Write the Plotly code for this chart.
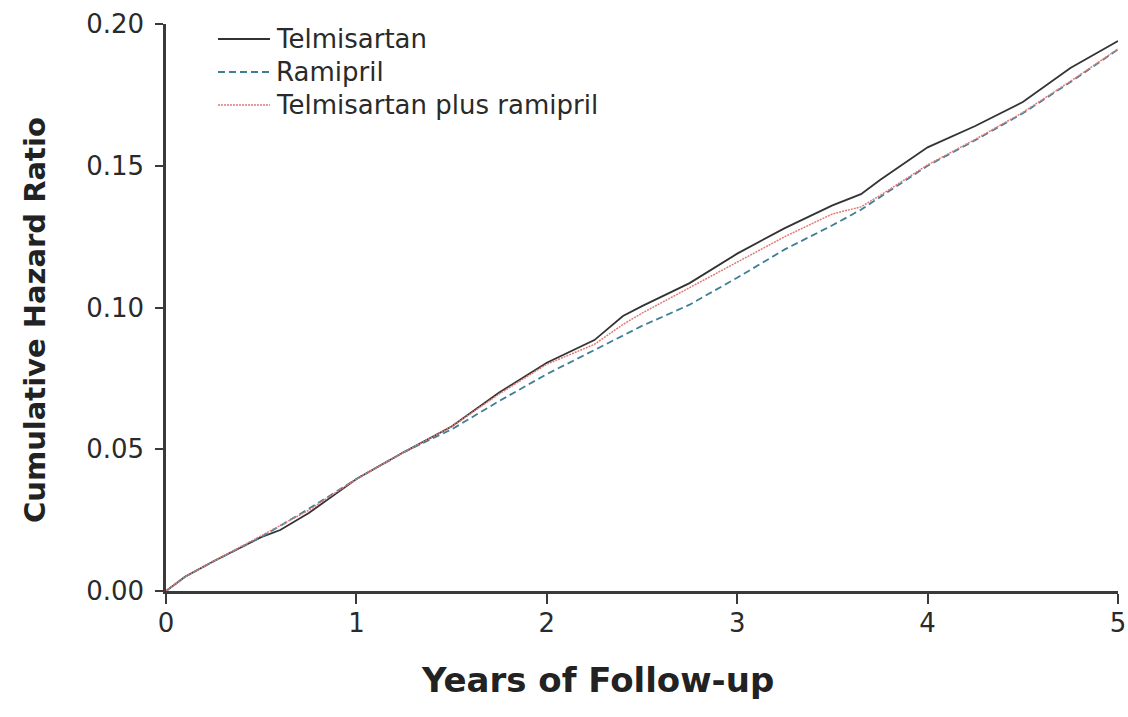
import plotly.graph_objects as go

# Years of follow-up at which the cumulative hazard is sampled
years = [0, 0.1, 0.25, 0.5, 0.6, 0.75, 1.0, 1.25, 1.5, 1.75, 2.0, 2.25, 2.4, 2.5,
         2.75, 3.0, 3.25, 3.5, 3.65, 3.75, 4.0, 4.25, 4.5, 4.75, 5.0]

telmisartan = [0, 0.005, 0.0105, 0.019, 0.0215, 0.0275, 0.0395, 0.049, 0.058, 0.070,
               0.0805, 0.0885, 0.097, 0.1005, 0.1086, 0.119, 0.128, 0.136, 0.140,
               0.145, 0.1565, 0.164, 0.1725, 0.1845, 0.194]

ramipril = [0, 0.005, 0.0105, 0.019, 0.023, 0.029, 0.0395, 0.049, 0.057, 0.067,
            0.0765, 0.085, 0.090, 0.0935, 0.101, 0.1105, 0.1205, 0.129, 0.1345,
            0.139, 0.150, 0.159, 0.1685, 0.1795, 0.191]

combination = [0, 0.005, 0.0105, 0.0195, 0.023, 0.0285, 0.0395, 0.049, 0.058, 0.0695,
               0.080, 0.087, 0.094, 0.098, 0.107, 0.116, 0.125, 0.133, 0.1355,
               0.1395, 0.1503, 0.1593, 0.1688, 0.1798, 0.1912]

series_names = ["Telmisartan", "Ramipril", "Telmisartan plus ramipril"]
x_ticks = [0, 1, 2, 3, 4, 5]
y_ticks = [0.00, 0.05, 0.10, 0.15, 0.20]
y_tick_labels = ["0.00", "0.05", "0.10", "0.15", "0.20"]
x_title = "Years of Follow-up"
y_title = "Cumulative Hazard Ratio"

FONT = "DejaVu Sans"
AXIS_COLOR = "#3a3a3a"
TEXT_COLOR = "#2a2a2a"

styles = [
    dict(color="#333333", width=1.8, dash="solid"),
    dict(color="#3f7f96", width=1.8, dash="7px,4px"),
    dict(color="#e07a78", width=1.5, dash="2px,1px"),
]

fig = go.Figure()
for name, values, style in zip(series_names, [telmisartan, ramipril, combination], styles):
    fig.add_trace(go.Scatter(x=years, y=values, mode="lines", name=name,
                             line=style, showlegend=False))

W, H = 1128, 717
ML, MR, MT, MB = 166, 10, 24, 126
pw, ph = W - ML - MR, H - MT - MB


def px_to_paper(px, py):
    return (px - ML) / pw, (H - MB - py) / ph


# Key in the upper-left corner: a short line sample followed by the series name
key_rows = [39, 72, 105]
for name, style, row in zip(series_names, styles, key_rows):
    x0, y0 = px_to_paper(218, row)
    x1, _ = px_to_paper(270, row)
    fig.add_shape(type="line", xref="paper", yref="paper", x0=x0, x1=x1, y0=y0, y1=y0,
                  line=style)
    tx, _ = px_to_paper(274, row)
    fig.add_annotation(xref="paper", yref="paper", x=tx, y=y0, text=name,
                       showarrow=False, xanchor="left", yanchor="middle",
                       font=dict(size=26, family=FONT, color=TEXT_COLOR))

# Axis titles
tx, ty = px_to_paper(597, 680)
fig.add_annotation(xref="paper", yref="paper", x=tx, y=ty, text=f"<b>{x_title}</b>",
                   showarrow=False, xanchor="center", yanchor="middle",
                   font=dict(size=34, family=FONT, color="#222222"))
tx, ty = px_to_paper(35, 320)
fig.add_annotation(xref="paper", yref="paper", x=tx, y=ty, text=f"<b>{y_title}</b>",
                   showarrow=False, xanchor="center", yanchor="middle", textangle=-90,
                   font=dict(size=29, family=FONT, color="#222222"))

fig.update_layout(
    width=W, height=H,
    margin=dict(l=ML, r=MR, t=MT, b=MB),
    paper_bgcolor="white", plot_bgcolor="white",
    font=dict(family=FONT, color=TEXT_COLOR),
    showlegend=False,
    xaxis=dict(range=[0, 5], tickvals=x_ticks, ticktext=[str(v) for v in x_ticks],
               automargin=False,
               showgrid=False, zeroline=False, showline=True, linecolor=AXIS_COLOR,
               linewidth=2.5, ticks="outside", ticklen=10, tickwidth=2, tickcolor=AXIS_COLOR,
               tickfont=dict(size=26, family=FONT, color=TEXT_COLOR),
               ticklabelstandoff=-3),
    yaxis=dict(range=[0, 0.2], tickvals=y_ticks, ticktext=y_tick_labels,
               automargin=False,
               showgrid=False, zeroline=False, showline=True, linecolor=AXIS_COLOR,
               linewidth=2.5, ticks="outside", ticklen=8, tickwidth=2, tickcolor=AXIS_COLOR,
               tickfont=dict(size=26, family=FONT, color=TEXT_COLOR),
               ticklabelstandoff=6),
)

fig.write_html("out.html")
